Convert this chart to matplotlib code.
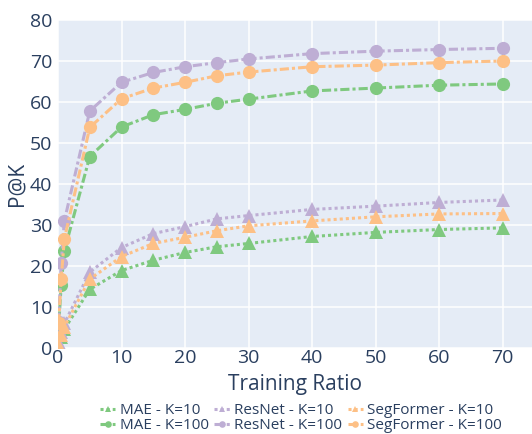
import matplotlib
matplotlib.use("Agg")
import matplotlib.pyplot as plt

plt.rcParams['font.family'] = ['Open Sans', 'DejaVu Sans']

ratios = [0.1, 0.5, 1, 5, 10, 15, 20, 25, 30, 40, 50, 60, 70]

mae_k10 = [0.6, 2.6, 4.6, 14.3, 18.9, 21.4, 23.3, 24.7, 25.5, 27.2, 28.2, 28.9, 29.3]
resnet_k10 = [1.2, 4.0, 6.0, 18.5, 24.5, 27.9, 29.6, 31.5, 32.3, 33.8, 34.6, 35.5, 36.1]
segformer_k10 = [0.4, 3.2, 5.2, 16.8, 22.3, 25.5, 27.0, 28.6, 29.8, 31.0, 32.0, 32.7, 32.8]

mae_k100 = [5.2, 15.4, 23.7, 46.7, 53.9, 56.9, 58.2, 59.7, 60.7, 62.7, 63.4, 64.1, 64.4]
resnet_k100 = [6.4, 20.7, 31.0, 57.8, 64.8, 67.2, 68.6, 69.6, 70.5, 71.8, 72.4, 72.8, 73.1]
segformer_k100 = [6.0, 16.8, 26.6, 53.8, 60.8, 63.4, 64.8, 66.4, 67.3, 68.6, 69.0, 69.6, 70.0]

x_ticks = [0, 10, 20, 30, 40, 50, 60, 70]
y_ticks = [0, 10, 20, 30, 40, 50, 60, 70, 80]

green = '#7fc97f'
purple = '#beaed4'
orange = '#fdc086'
text_color = '#2a3f5f'

fig = plt.figure(figsize=(5.32, 4.34), dpi=100)
ax = fig.add_axes([58 / 532, 1 - 348 / 434, 1 - 58 / 532, 328 / 434])
ax.set_facecolor('#e5ecf6')

series = [
    ('MAE - K=10', mae_k10, green, '^', (1, 1)),
    ('MAE - K=100', mae_k100, green, 'o', (3, 1, 1, 1)),
    ('ResNet - K=10', resnet_k10, purple, '^', (1, 1)),
    ('ResNet - K=100', resnet_k100, purple, 'o', (3, 1, 1, 1)),
    ('SegFormer - K=10', segformer_k10, orange, '^', (1, 1)),
    ('SegFormer - K=100', segformer_k100, orange, 'o', (3, 1, 1, 1)),
]

for name, vals, color, marker, dashes in series:
    ax.plot(ratios, vals, color=color, marker=marker, markersize=10 if marker == '^' else 9.5,
            markeredgewidth=0, linewidth=2.2, dashes=dashes, label=name, zorder=3)

ax.set_xlim(0, 74.6)
ax.set_ylim(0, 80)
ax.set_xticks(x_ticks)
ax.set_yticks(y_ticks)
ax.grid(True, color='white', linewidth=1.1)
ax.set_axisbelow(True)
for s in ax.spines.values():
    s.set_visible(False)
ax.tick_params(length=0, labelsize=14, colors=text_color)
ax.tick_params(axis='x', pad=1)
ax.tick_params(axis='y', pad=4)
ax.set_xlabel('Training Ratio', fontsize=15, color=text_color, labelpad=5)
ax.set_ylabel('P@K', fontsize=15, color=text_color, labelpad=2)

leg = fig.legend(loc='lower left', bbox_to_anchor=(94 / 532, -0.012), ncol=3, frameon=False,
                 fontsize=11, handlelength=1.0, handletextpad=0.3, columnspacing=0.35,
                 labelspacing=0.0, markerscale=0.5, borderaxespad=0.0)
for t in leg.get_texts():
    t.set_color(text_color)

fig.savefig('out.png', dpi=100)
